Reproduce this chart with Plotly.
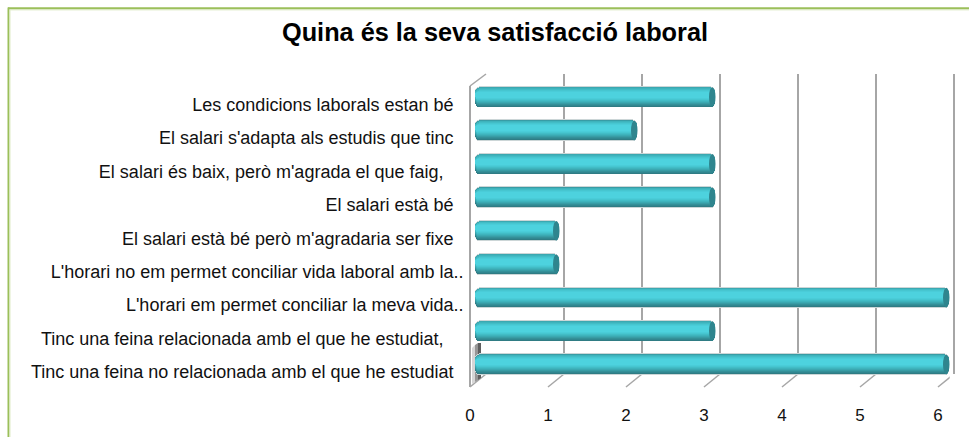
import plotly.graph_objects as go

categories = [
    "Tinc una feina no relacionada amb el que he estudiat",
    "Tinc una feina relacionada amb el que he estudiat,",
    "L'horari em permet conciliar la meva vida..",
    "L'horari no em permet conciliar vida laboral amb la..",
    "El salari està bé però m'agradaria ser fixe",
    "El salari està bé",
    "El salari és baix, però m'agrada el que faig,",
    "El salari s'adapta als estudis que tinc",
    "Les condicions laborals estan bé",
]
values = [6, 3, 6, 1, 1, 3, 3, 2, 3]
ticks = [0, 1, 2, 3, 4, 5, 6]
title = "Quina és la seva satisfacció laboral"

W, H = 969, 437
UNIT = 78
# the plot area keeps a small 5 px left inset, so paper fractions are measured from it
INSET = 5
def px(v): return (v - INSET) / (W - INSET)
def py(v): return 1 - v / H

XFRONT = 470
XBAR = 481
XBACK = 486
CAP = 6
YTOP, YBOT = 80.3, 381.2
LABEL_DROP = 7.5
ROW = (YBOT - YTOP) / len(categories)
rng = [0, 6.15]
span = rng[1] * UNIT

def pad(c):
    if c.endswith(".."):
        return c
    return c + "\u00a0" * (4 if c.endswith(",") else 2)
labels = [pad(c) for c in categories]

fig = go.Figure()
# nested rounded bars build the cylinder shading: (top px, bottom px, colour) within a 20 px bar
layers = [
    (-0.7, 20.7, "#ccd6d7"),
    (0.2, 20.0, "#2f7c84"),
    (0.2, 19.0, "#318690"),
    (0.2, 18.0, "#349098"),
    (0.2, 17.0, "#389ca5"),
    (0.6, 16.0, "#3ba8b1"),
    (1.2, 15.0, "#3eb3bc"),
    (2.0, 14.0, "#42bcc6"),
    (3.0, 13.0, "#46c6d0"),
    (4.0, 12.0, "#4accd8"),
    (5.0, 11.0, "#4dd2de"),
]
n = len(values)
fig.add_trace(go.Scatter(x=[0, 6], y=[0, 1], xaxis="x2", yaxis="y2", mode="none",
                         hoverinfo="skip", showlegend=False))
fig.add_trace(go.Scatter(x=[0] * n, y=list(range(n)), xaxis="x", yaxis="y3", mode="none",
                         hoverinfo="skip", showlegend=False))
for t, b, col in layers:
    fig.add_trace(go.Bar(
        y=list(range(n)), x=[v + CAP / UNIT for v in values], base=[-CAP / UNIT] * n, orientation="h",
        width=(b - t) / ROW, offset=[(10 - b) / ROW] * n, cliponaxis=False,
        marker=dict(color=col, cornerradius=5, line=dict(width=0)),
        xaxis="x3", yaxis="y", hoverinfo="skip", showlegend=False,
    ))
fig.update_layout(
    width=W, height=H, autosize=False, bargap=0, barmode="overlay",
    paper_bgcolor="white", plot_bgcolor="rgba(0,0,0,0)",
    margin=dict(l=0, r=0, t=0, b=0), showlegend=False,
    font=dict(family="Liberation Sans", color="#111111"),
    title=dict(text="<b>%s</b>" % title, x=495 / W, xanchor="center", y=1 - 32 / H, yanchor="middle",
               font=dict(size=25.3, family="Liberation Sans", color="black")),
    xaxis=dict(domain=[px(XFRONT), px(XFRONT + span)], range=rng, anchor="free", position=py(387),
               tickvals=ticks, showgrid=False, zeroline=False, showline=False, ticks="",
               ticklabelstandoff=16, tickfont=dict(size=17, color="#111111")),
    xaxis2=dict(domain=[px(XBACK), px(XBACK + span)], range=rng, anchor="y2",
                tickvals=ticks, showgrid=True, gridcolor="#a6a6a6", gridwidth=2, showticklabels=False,
                zeroline=False, showline=False, ticks=""),
    xaxis3=dict(domain=[px(XBAR - CAP), px(XBAR + span)], range=[-CAP / UNIT, rng[1]], anchor="free", position=py(387),
                showgrid=False, showticklabels=False, zeroline=False, showline=False, ticks=""),
    yaxis=dict(domain=[py(YBOT), py(YTOP)], range=[-0.5, n - 0.5], anchor="free", position=px(XBAR),
               showticklabels=False, showgrid=False, zeroline=False, showline=False, ticks=""),
    yaxis2=dict(domain=[py(374), py(74)], range=[0, 1], anchor="x2",
                showgrid=False, showticklabels=False, zeroline=False, showline=False, ticks=""),
    yaxis3=dict(domain=[py(YBOT + LABEL_DROP), py(YTOP + LABEL_DROP)], range=[-0.5, n - 0.5], anchor="free",
                position=px(463.5), tickmode="array", tickvals=list(range(n)), ticktext=labels,
                showgrid=False, zeroline=False, showline=False, ticks="", side="left",
                tickfont=dict(size=18, color="#111111")),
)

shapes = []
wall = "#a6a6a6"
for t in ticks:
    shapes.append(dict(type="line", xref="x", yref="paper", xsizemode="pixel", ysizemode="pixel",
                       xanchor=t, yanchor=py(387), x0=0, x1=16, y0=0, y1=13,
                       line=dict(color=wall, width=1.5), layer="below"))
def poly(points):
    return "M" + " L".join("%.5f,%.5f" % (px(a), py(b)) for a, b in points) + " Z"
shapes += [
    dict(type="line", xref="paper", yref="paper", x0=px(XFRONT), x1=px(XFRONT), y0=py(86), y1=py(387),
         line=dict(color=wall, width=2), layer="below"),
    dict(type="line", xref="paper", yref="paper", x0=px(XFRONT), x1=px(XBACK), y0=py(86), y1=py(74),
         line=dict(color=wall, width=1.5), layer="below"),
    # dark foot of the left wall behind the lowest bar
    dict(type="path", xref="paper", yref="paper", path=poly([(472, 348), (475, 345), (475, 382), (472, 384)]),
         fillcolor="#d6d6d6", line=dict(width=0), layer="below"),
    dict(type="path", xref="paper", yref="paper", path=poly([(475, 345), (478, 343), (478, 380), (475, 382)]),
         fillcolor="#969696", line=dict(width=0), layer="below"),
    dict(type="path", xref="paper", yref="paper", path=poly([(478, 343), (481, 343), (481, 378), (478, 380)]),
         fillcolor="#5e5e5e", line=dict(width=0), layer="below"),
    # green frame
    dict(type="line", xref="paper", yref="paper", x0=px(8), x1=1, y0=py(8.3), y1=py(8.3),
         line=dict(color="#9bbf5a", width=2)),
    dict(type="line", xref="paper", yref="paper", x0=px(10), x1=1, y0=py(9.8), y1=py(9.8),
         line=dict(color="#d3e4b5", width=1)),
    dict(type="line", xref="paper", yref="paper", x0=px(8.5), x1=px(8.5), y0=py(7.5), y1=0,
         line=dict(color="#9bbf5a", width=2)),
    dict(type="line", xref="paper", yref="paper", x0=px(10), x1=px(10), y0=py(9.8), y1=0,
         line=dict(color="#e0ecc8", width=1)),
]
for i, v in enumerate(values):
    shapes.append(dict(type="circle", xref="x3", yref="y", xsizemode="pixel", xanchor=v,
                       x0=-6, x1=0.5, y0=i - 9.8 / ROW, y1=i + 9.8 / ROW,
                       fillcolor="#2f858e", line=dict(width=0), layer="above"))
fig.update_layout(shapes=shapes)
fig.write_html("out.html", config=dict(displayModeBar=False),
               post_script="document.body.style.margin='0';document.body.style.padding='0';")
